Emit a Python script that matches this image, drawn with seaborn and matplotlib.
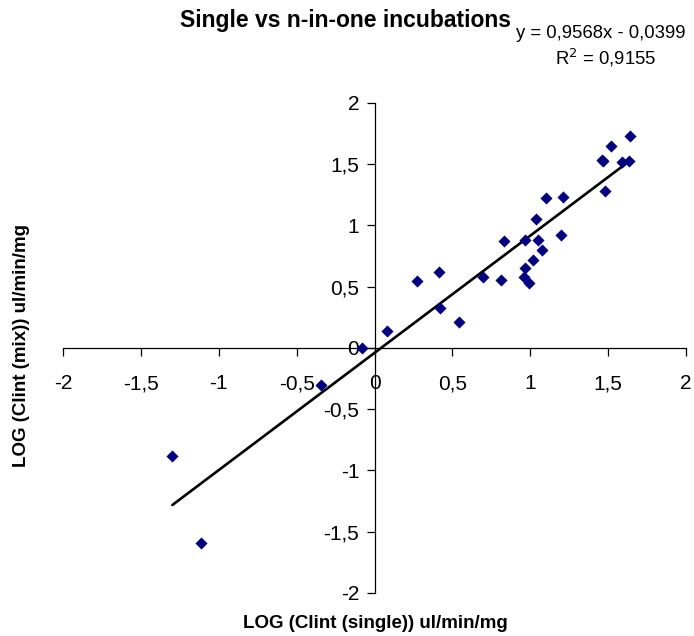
import numpy as np
import matplotlib
matplotlib.use("Agg")
import matplotlib.pyplot as plt
from matplotlib.ticker import FuncFormatter, MultipleLocator
import pandas as pd
import seaborn as sns

# log Clint, single incubation vs n-in-one (mix) incubation
log_single = [1.641, 1.517, 1.460, 1.464, 1.586, 1.632, 1.479, 1.102, 1.213, 1.034,
              0.829, 0.967, 1.047, 1.196, 1.074, 1.017, 0.967, 0.959, 0.989, 0.270,
              0.411, 0.695, 0.810, 0.422, 0.543, 0.081, -0.079, -0.345, -1.298, -1.117]
log_mix = [1.733, 1.648, 1.536, 1.525, 1.516, 1.525, 1.284, 1.221, 1.235, 1.055,
           0.875, 0.885, 0.885, 0.921, 0.801, 0.716, 0.656, 0.582, 0.530, 0.547,
           0.618, 0.582, 0.557, 0.328, 0.211, 0.137, 0.000, -0.300, -0.882, -1.595]

slope = 0.9568
intercept = -0.0399
r2 = 0.9155

df = pd.DataFrame({"single": log_single, "mix": log_mix})

sns.set_style("white")
plt.rcParams["font.family"] = ["Liberation Sans", "DejaVu Sans"]
plt.rcParams["text.color"] = "black"
plt.rcParams["xtick.color"] = "black"
plt.rcParams["ytick.color"] = "black"

fig = plt.figure(figsize=(6.94, 6.36), dpi=100)
ax = fig.add_axes([63 / 694, 1 - 593 / 636, (686 - 63) / 694, (593 - 103) / 636])

sns.scatterplot(data=df, x="single", y="mix", ax=ax, marker="D", color="#000080",
                s=38, edgecolor="#000080", linewidth=0, zorder=3)

# trendline from the stated equation, over the data range
xs = np.array([df["single"].min(), df["single"].max()])
ax.plot(xs, slope * xs + intercept, color="black", lw=1.9, zorder=2)

ax.set_xlim(-2, 2)
ax.set_ylim(-2, 2)
ax.xaxis.set_major_locator(MultipleLocator(0.5))
ax.yaxis.set_major_locator(MultipleLocator(0.5))
fmt = FuncFormatter(lambda v, p: ("%g" % v).replace(".", ","))
ax.xaxis.set_major_formatter(fmt)
ax.yaxis.set_major_formatter(fmt)

ax.spines["left"].set_position(("data", 0))
ax.spines["bottom"].set_position(("data", 0))
ax.spines["top"].set_visible(False)
ax.spines["right"].set_visible(False)
for s in ("left", "bottom"):
    ax.spines[s].set_color("black")
    ax.spines[s].set_linewidth(0.9)
ax.tick_params(axis="both", which="major", bottom=True, left=True, direction="out",
               length=6, width=0.9, color="black", labelcolor="black",
               labelsize=15, pad=5)
ax.tick_params(axis="x", pad=13)

ax.set_xlabel("")
ax.set_ylabel("")
fig.text(375 / 694, 1 - 624 / 636, "LOG (Clint (single)) ul/min/mg", ha="center",
         va="center", fontsize=13.5, fontweight="bold")
fig.text(22 / 694, 1 - 345 / 636, "LOG (Clint (mix)) ul/min/mg", ha="center",
         va="center", rotation=90, fontsize=13.5, fontweight="bold")
fig.text(346 / 694, 1 - 20 / 636, "Single vs n-in-one incubations", ha="center",
         va="center", fontsize=16.5, fontweight="bold")
fig.text(686 / 694, 1 - 34 / 636, "y = 0,9568x - 0,0399", ha="right",
         va="center", fontsize=13.3)
fig.text(606 / 694, 1 - 58 / 636, "R$^2$ = 0,9155", ha="center",
         va="center", fontsize=13.3)

fig.savefig("out.png", dpi=100)
